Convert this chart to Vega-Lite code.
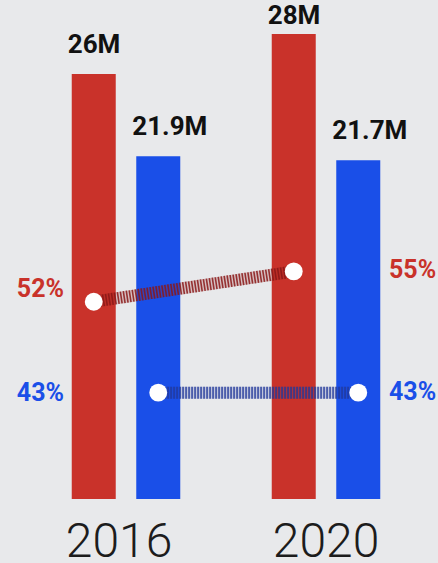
{
  "$schema": "https://vega.github.io/schema/vega-lite/v6.json",
  "width": 438,
  "height": 499,
  "autosize": {"type": "none"},
  "padding": {"top": 0, "left": 0, "right": 0, "bottom": 64},
  "background": "#e8e9eb",
  "config": {"view": {"stroke": null}, "font": "Roboto"},
  "data": {
    "values": [
      {"year": "2016", "party": "Republican", "votes": 26, "vlabel": "26M", "pct": 52, "plabel": "52%"},
      {"year": "2016", "party": "Democratic", "votes": 21.9, "vlabel": "21.9M", "pct": 43, "plabel": "43%"},
      {"year": "2020", "party": "Republican", "votes": 28, "vlabel": "28M", "pct": 55, "plabel": "55%"},
      {"year": "2020", "party": "Democratic", "votes": 21.7, "vlabel": "21.7M", "pct": 43, "plabel": "43%"}
    ]
  },
  "encoding": {
    "x": {
      "field": "year", "type": "nominal",
      "scale": {"range": [26, 426], "paddingInner": 0, "paddingOuter": 0},
      "axis": {"title": null, "ticks": false, "domain": false, "grid": false, "labelAngle": 0,
               "labelFontSize": 48, "labelFontWeight": 300, "labelColor": "#1c1c1c",
               "labelBaseline": "alphabetic", "labelPadding": 57,
               "labelOffset": {"condition": {"test": "datum.value == '2016'", "value": -7}, "value": 0}}
    },
    "xOffset": {
      "field": "party", "type": "nominal",
      "scale": {"domain": ["Republican", "Democratic"], "paddingInner": 0.318, "paddingOuter": 0.709}
    },
    "color": {
      "field": "party", "type": "nominal",
      "scale": {"domain": ["Republican", "Democratic"], "range": ["#c9322a", "#1a4fe8"]},
      "legend": null
    }
  },
  "layer": [
    {
      "encoding": {
        "y": {"field": "votes", "type": "quantitative", "scale": {"domain": [4.78, 29.7]}, "axis": null}
      },
      "layer": [
        {"mark": {"type": "bar"}, "encoding": {"y2": {"datum": 4.78}}},
        {
          "transform": [{"filter": "datum.votes != 28"}],
          "mark": {"type": "text", "align": "left", "baseline": "alphabetic", "dx": -26, "dy": -21,
                   "fontSize": 26, "fontWeight": "bold"},
          "encoding": {"text": {"field": "vlabel"}, "color": {"value": "#111111"}}
        },
        {
          "transform": [{"filter": "datum.votes == 28"}],
          "mark": {"type": "text", "align": "left", "baseline": "alphabetic", "dx": -26, "dy": -10,
                   "fontSize": 26, "fontWeight": "bold"},
          "encoding": {"text": {"field": "vlabel"}, "color": {"value": "#111111"}}
        }
      ]
    },
    {
      "encoding": {
        "y": {"field": "pct", "type": "quantitative", "scale": {"domain": [32.47, 81.87]}, "axis": null}
      },
      "layer": [
        {
          "mark": {"type": "line", "strokeWidth": 12, "opacity": 0.2},
          "encoding": {
            "stroke": {"field": "party", "type": "nominal",
                       "scale": {"domain": ["Republican", "Democratic"], "range": ["#8a1818", "#22389a"]}, "legend": null},
            "color": null
          }
        },
        {
          "mark": {"type": "line", "strokeWidth": 12, "strokeDash": [1.6, 1.4], "opacity": 0.85},
          "encoding": {
            "stroke": {"field": "party", "type": "nominal",
                       "scale": {"domain": ["Republican", "Democratic"], "range": ["#8a1818", "#22389a"]}, "legend": null},
            "color": null
          }
        },
        {
          "mark": {"type": "circle", "size": 320, "opacity": 1},
          "encoding": {"color": {"value": "#ffffff"}}
        },
        {
          "transform": [{"filter": "datum.year == '2016' && datum.party == 'Republican'"}],
          "mark": {"type": "text", "align": "right", "baseline": "middle", "dx": -62, "dy": -13,
                   "fontSize": 25, "fontWeight": "bold"},
          "encoding": {"text": {"field": "plabel"}, "xOffset": null}
        },
        {
          "transform": [{"filter": "datum.year == '2016' && datum.party == 'Democratic'"}],
          "mark": {"type": "text", "align": "right", "baseline": "middle", "dx": -62, "dy": 0,
                   "fontSize": 25, "fontWeight": "bold"},
          "encoding": {"text": {"field": "plabel"}, "xOffset": null}
        },
        {
          "transform": [{"filter": "datum.year == '2020'"}],
          "mark": {"type": "text", "align": "left", "baseline": "middle", "dx": 63, "dy": -1,
                   "fontSize": 25, "fontWeight": "bold"},
          "encoding": {"text": {"field": "plabel"}, "xOffset": null}
        }
      ]
    }
  ],
  "resolve": {"scale": {"y": "independent"}}
}
